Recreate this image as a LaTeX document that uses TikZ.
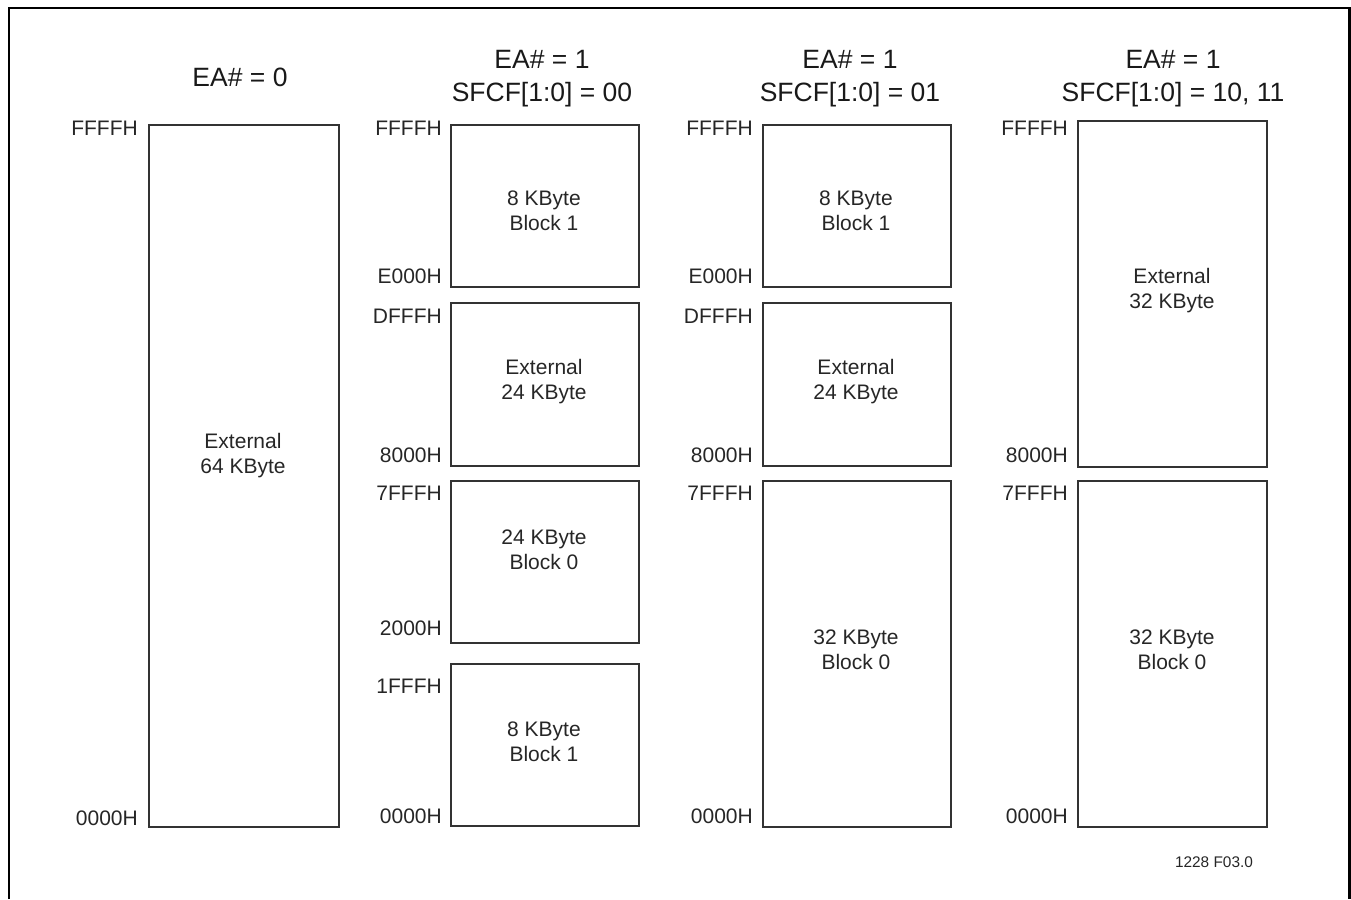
\documentclass[tikz,border=0pt]{standalone}
\usepackage{fontspec}
\setmainfont{Liberation Sans}
\begin{document}
\begin{tikzpicture}[x=1pt,y=-1pt,
  box/.style={draw=black!80, line width=1.5pt, inner sep=0pt, anchor=north west},
  thickbox/.style={box, line width=2.4pt},
  medbox/.style={box, line width=1.9pt},
  txt/.style={align=center, inner sep=0pt, text=black!85, font=\fontsize{21}{25}\selectfont},
  addr/.style={anchor=base east, inner sep=0pt, text=black!85, font=\fontsize{21}{25}\selectfont},
  ttl/.style={align=center, inner sep=0pt, text=black!90, font=\fontsize{26.5}{33}\selectfont},
  note/.style={inner sep=0pt, text=black!85, font=\fontsize{15.4}{18}\selectfont}]
\useasboundingbox (0,0) rectangle (1351,899);
% frame
\draw[line width=2.5pt] (9,899) -- (9,8) -- (1349.5,8) -- (1349.5,899);

% titles
\node[ttl] (t1) at (240,77) {EA\# = 0};
\node[ttl] (t2) at (542,79) {EA\# = 1\\SFCF[1:0] = 00};
\node[ttl] (t3) at (850,79) {EA\# = 1\\SFCF[1:0] = 01};
\node[ttl] (t4) at (1173,79) {EA\# = 1\\SFCF[1:0] = 10, 11};

% column 1
\node[box, minimum width=190pt, minimum height=702pt] (a1) at (148,124) {};
\node[txt] (a1t) at (243,456) {External\\64 KByte};
\node[addr] (a1h) at (138,135.5) {FFFFH};
\node[addr] (a1l) at (138,825.5) {0000H};

% column 2
\node[box, minimum width=188pt, minimum height=162pt] (b1) at (450,124) {};
\node[box, minimum width=188pt, minimum height=163pt] (b2) at (450,302) {};
\node[box, minimum width=188pt, minimum height=162pt] (b3) at (450,480) {};
\node[thickbox, minimum width=188pt, minimum height=162pt] (b4) at (450,663) {};
\node[txt] (b1t) at (544,211) {8 KByte\\Block 1};
\node[txt] (b2t) at (544,382) {External\\24 KByte};
\node[txt] (b3t) at (544,550) {24 KByte\\Block 0};
\node[txt] (b4t) at (544,742) {8 KByte\\Block 1};
\node[addr] (b1h) at (442,135.5) {FFFFH};
\node[addr] (b1l) at (442,283.5) {E000H};
\node[addr] (b2h) at (442,323.5) {DFFFH};
\node[addr] (b2l) at (442,462.5) {8000H};
\node[addr] (b3h) at (442,500.5) {7FFFH};
\node[addr] (b3l) at (442,635.5) {2000H};
\node[addr] (b4h) at (442,693.5) {1FFFH};
\node[addr] (b4l) at (442,823.5) {0000H};

% column 3
\node[box, minimum width=188pt, minimum height=162pt] (c1) at (762,124) {};
\node[box, minimum width=188pt, minimum height=163pt] (c2) at (762,302) {};
\node[box, minimum width=188pt, minimum height=346pt] (c3) at (762,480) {};
\node[txt] (c1t) at (856,211) {8 KByte\\Block 1};
\node[txt] (c2t) at (856,382) {External\\24 KByte};
\node[txt] (c3t) at (856,650) {32 KByte\\Block 0};
\node[addr] (c1h) at (753,135.5) {FFFFH};
\node[addr] (c1l) at (753,283.5) {E000H};
\node[addr] (c2h) at (753,323.5) {DFFFH};
\node[addr] (c2l) at (753,462.5) {8000H};
\node[addr] (c3h) at (753,500.5) {7FFFH};
\node[addr] (c3l) at (753,823.5) {0000H};

% column 4
\node[medbox, minimum width=189pt, minimum height=346pt] (d1) at (1077,120) {};
\node[medbox, minimum width=189pt, minimum height=346pt] (d2) at (1077,480) {};
\node[txt] (d1t) at (1172,291) {External\\32 KByte};
\node[txt] (d2t) at (1172,650) {32 KByte\\Block 0};
\node[addr] (d1h) at (1068,135.5) {FFFFH};
\node[addr] (d1l) at (1068,462.5) {8000H};
\node[addr] (d2h) at (1068,500.5) {7FFFH};
\node[addr] (d2l) at (1068,823.5) {0000H};

% footnote
\node[note] (fn) at (1214,862) {1228 F03.0};
\end{tikzpicture}
\end{document}
